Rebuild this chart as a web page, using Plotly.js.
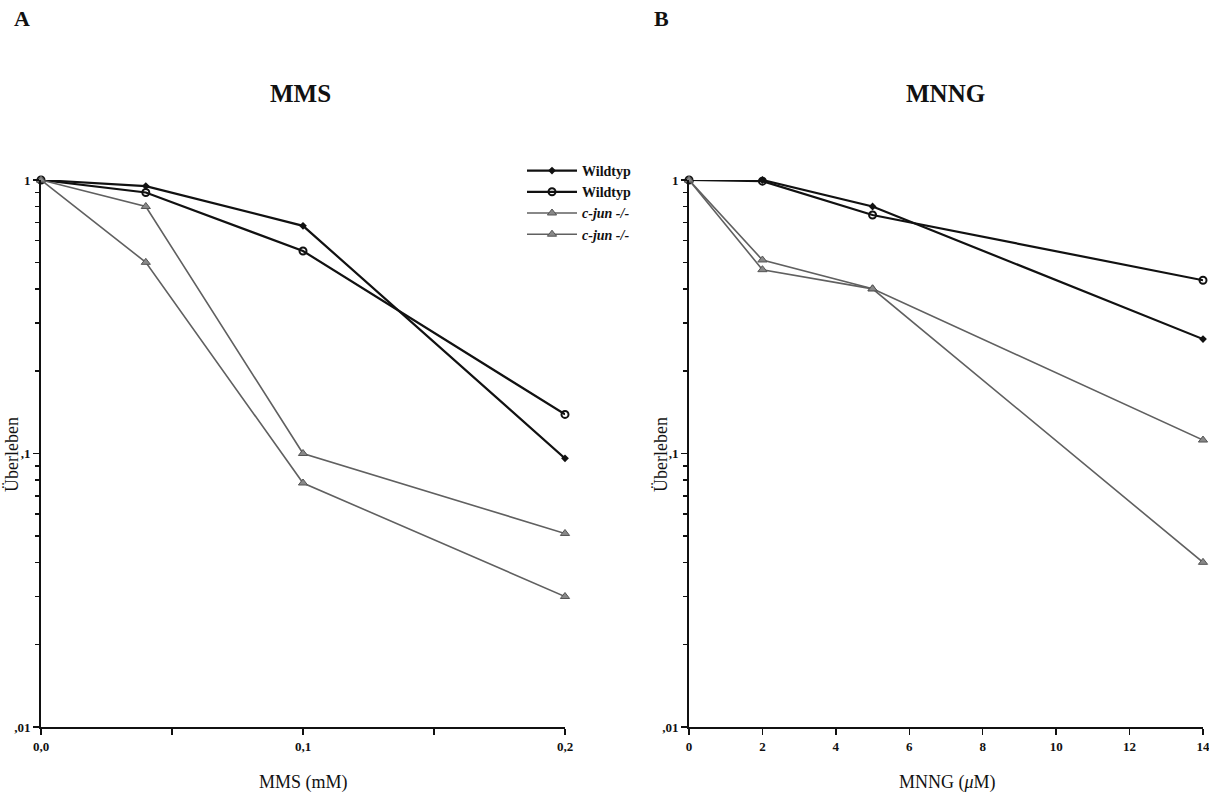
<!DOCTYPE html>
<html>
<head>
<meta charset="utf-8">
<script src="https://cdn.plot.ly/plotly-3.0.1.min.js"></script>
<style>html,body{margin:0;padding:0;background:#fff;}#chart{width:1209px;height:796px;}</style>
</head>
<body>
<div id="chart"></div>
<script>
// ---- Data ----
const mmsDose = [0, 0.04, 0.1, 0.2];
const mmsWild1 = [1, 0.95, 0.68, 0.096];
const mmsWild2 = [1, 0.90, 0.55, 0.139];
const mmsJun1 = [1, 0.80, 0.10, 0.051];
const mmsJun2 = [1, 0.50, 0.078, 0.030];

const mnngDose = [0, 2, 5, 14];
const mnngWild1 = [1, 1.0, 0.80, 0.262];
const mnngWild2 = [1, 0.99, 0.745, 0.43];
const mnngJun1 = [1, 0.51, 0.40, 0.112];
const mnngJun2 = [1, 0.47, 0.40, 0.040];

const seriesNames = ["<b>Wildtyp</b>", "<b>Wildtyp</b>", "<b><i>c-jun -/-</i></b>", "<b><i>c-jun -/-</i></b>"];
const yTickVals = [0.01, 0.1, 1];
const yTickText = ["<b>,01</b>", "<b>,1</b>", "<b>1</b>"];
const mmsTickVals = [0, 0.05, 0.1, 0.15, 0.2];
const mmsTickText = ["0,0", "", "0,1", "", "0,2"];
const mnngTickVals = [0, 2, 4, 6, 8, 10, 12, 14];
const mnngTickText = ["0", "2", "4", "6", "8", "10", "12", "14"];

// ---- Styles ----
const BLACK = "#111111", GRAY = "#606060";
const styles = [
  {color: BLACK, width: 2.2, marker: {symbol: "diamond", size: 6, color: BLACK}},
  {color: BLACK, width: 2.2, marker: {symbol: "circle-open", size: 7, color: BLACK, line: {width: 2, color: BLACK}}},
  {color: GRAY, width: 1.6, marker: {symbol: "triangle-up", size: 8, color: "#888", line: {width: 1, color: "#555"}}},
  {color: GRAY, width: 1.6, marker: {symbol: "triangle-up", size: 8, color: "#888", line: {width: 1, color: "#555"}}}
];

function mk(x, y, i, xa, ya, legend) {
  return {
    x: x, y: y, xaxis: xa, yaxis: ya, type: "scatter", mode: "lines+markers",
    name: seriesNames[i], showlegend: legend, cliponaxis: false,
    line: {color: styles[i].color, width: styles[i].width},
    marker: styles[i].marker
  };
}

const traces = [
  mk(mmsDose, mmsWild1, 0, "x", "y", true),
  mk(mmsDose, mmsWild2, 1, "x", "y", true),
  mk(mmsDose, mmsJun1, 2, "x", "y", true),
  mk(mmsDose, mmsJun2, 3, "x", "y", true),
  mk(mnngDose, mnngWild1, 0, "x2", "y2", false),
  mk(mnngDose, mnngWild2, 1, "x2", "y2", false),
  mk(mnngDose, mnngJun1, 2, "x2", "y2", false),
  mk(mnngDose, mnngJun2, 3, "x2", "y2", false)
];

const W = 1209, H = 796;
const serif = "Liberation Serif";
const tickFont = {family: serif, size: 13, color: "#111"};
const yDomain = [1 - 727 / H, 1 - 180 / H];

function yAxis(anchor) {
  return {
    type: "log", range: [-2, 0], anchor: anchor, domain: yDomain,
    tickmode: "array", tickvals: yTickVals, ticktext: yTickText,
    ticks: "outside", ticklen: 6, tickwidth: 1.5, tickcolor: "#111",
    tickfont: tickFont,
    showline: true, linecolor: "#111", linewidth: 2, showgrid: false, zeroline: false,
    minor: {ticks: "outside", dtick: "D1", ticklen: 4, tickwidth: 1.5, tickcolor: "#111", showgrid: false}
  };
}

function bold(arr) { return arr.map(t => t ? "<b>" + t + "</b>" : ""); }

const layout = {
  width: W, height: H,
  margin: {l: 0, r: 0, t: 0, b: 0},
  paper_bgcolor: "#fff", plot_bgcolor: "#fff",
  showlegend: true,
  legend: {
    x: 522 / W, y: 1 - 155 / H, xanchor: "left", yanchor: "top",
    font: {family: serif, size: 14, color: "#111"},
    bgcolor: "rgba(0,0,0,0)", itemwidth: 50, tracegroupgap: 0
  },
  xaxis: {
    domain: [41 / W, 565 / W], range: [0, 0.2], anchor: "y",
    tickmode: "array", tickvals: mmsTickVals, ticktext: bold(mmsTickText),
    ticks: "outside", ticklen: 6, tickwidth: 1.5, tickcolor: "#111",
    tickfont: tickFont,
    showline: true, linecolor: "#111", linewidth: 2, showgrid: false, zeroline: false
  },
  yaxis: yAxis("x"),
  xaxis2: {
    domain: [689 / W, 1203 / W], range: [0, 14], anchor: "y2",
    tickmode: "array", tickvals: mnngTickVals, ticktext: bold(mnngTickText),
    ticks: "outside", ticklen: 6, tickwidth: 1.5, tickcolor: "#111",
    tickfont: tickFont, ticklabeloverflow: "allow",
    showline: true, linecolor: "#111", linewidth: 2, showgrid: false, zeroline: false
  },
  yaxis2: yAxis("x2"),
  annotations: [
    {text: "<b>A</b>", x: 12 / W, y: 1 - 18 / H, xref: "paper", yref: "paper", xanchor: "left", yanchor: "middle", showarrow: false, font: {family: serif, size: 22, color: "#111"}},
    {text: "<b>B</b>", x: 652 / W, y: 1 - 18 / H, xref: "paper", yref: "paper", xanchor: "left", yanchor: "middle", showarrow: false, font: {family: serif, size: 22, color: "#111"}},
    {text: "<b>MMS</b>", x: 300 / W, y: 1 - 93 / H, xref: "paper", yref: "paper", xanchor: "center", yanchor: "middle", showarrow: false, font: {family: serif, size: 25, color: "#111"}},
    {text: "<b>MNNG</b>", x: 945 / W, y: 1 - 93 / H, xref: "paper", yref: "paper", xanchor: "center", yanchor: "middle", showarrow: false, font: {family: serif, size: 25, color: "#111"}},
    {text: "MMS (mM)", x: 303 / W, y: 1 - 782 / H, xref: "paper", yref: "paper", xanchor: "center", yanchor: "middle", showarrow: false, font: {family: serif, size: 18, color: "#111"}},
    {text: "MNNG (<i>μ</i>M)", x: 947 / W, y: 1 - 782 / H, xref: "paper", yref: "paper", xanchor: "center", yanchor: "middle", showarrow: false, font: {family: serif, size: 18, color: "#111"}},
    {text: "Überleben", x: 12 / W, y: 1 - 455 / H, xref: "paper", yref: "paper", xanchor: "center", yanchor: "middle", textangle: -90, showarrow: false, font: {family: serif, size: 18, color: "#111"}},
    {text: "Überleben", x: 661 / W, y: 1 - 455 / H, xref: "paper", yref: "paper", xanchor: "center", yanchor: "middle", textangle: -90, showarrow: false, font: {family: serif, size: 18, color: "#111"}}
  ]
};

Plotly.newPlot("chart", traces, layout, {staticPlot: true, displayModeBar: false});
</script>
</body>
</html>
